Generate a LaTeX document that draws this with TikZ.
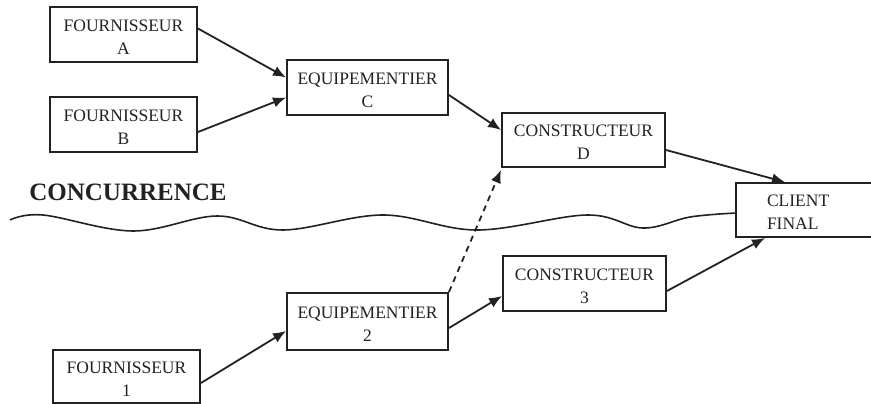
\documentclass[tikz,border=0pt]{standalone}
\usepackage{fontspec}
\setmainfont{Liberation Serif}
\usetikzlibrary{arrows.meta}
\definecolor{ink}{HTML}{222222}
% two-line label, set a little below the middle of its box
\newcommand{\twolines}[3][c]{\raisebox{-3.5pt}[\height][\depth]{\begin{tabular}{@{}#1@{}}#2\\#3\end{tabular}}}
\tikzset{
  box/.style={draw=ink, line width=1.9pt, fill=white, inner sep=0pt,
    font=\fontsize{17.5}{23}\selectfont, text=ink},
  flow/.style={draw=ink, line width=1.8pt, -{Latex[length=13pt,width=10.5pt]}},
  rival/.style={flow, dashed, dash pattern=on 6pt off 5pt}
}
\begin{document}
\begin{tikzpicture}[x=1pt,y=-1pt]
\useasboundingbox (0,0) rectangle (871,404);
\fill[white] (0,0) rectangle (871,404);

% supply chain boxes
\node[box, minimum width=147pt, minimum height=55pt] (fa) at (123.5,34.5) {\twolines{FOURNISSEUR}{A}};
\node[box, minimum width=147pt, minimum height=55pt] (fb) at (123.5,124.5) {\twolines{FOURNISSEUR}{B}};
\node[box, minimum width=161pt, minimum height=55pt] (ec) at (367.5,87.5) {\twolines{EQUIPEMENTIER}{C}};
\node[box, minimum width=163pt, minimum height=54pt] (cd) at (583.5,140) {\twolines{CONSTRUCTEUR}{D}};
\node[box, minimum width=144pt, minimum height=54pt, text width=82pt, inner xsep=31pt]
  (cf) at (808,210) {\twolines[l]{CLIENT}{FINAL}};
\node[box, minimum width=161pt, minimum height=57pt] (e2) at (367.5,321.5) {\twolines{EQUIPEMENTIER}{2}};
\node[box, minimum width=147pt, minimum height=53pt] (f1) at (126.5,376.5) {\twolines{FOURNISSEUR}{1}};
\node[box, minimum width=163pt, minimum height=55pt] (c3) at (584.5,283.5) {\twolines{CONSTRUCTEUR}{3}};

% competition boundary
\node[font=\fontsize{25}{30}\selectfont\bfseries, text=ink, inner sep=0pt] (conc) at (128,192) {CONCURRENCE};
\draw[ink, line width=1.6pt] plot[smooth, tension=0.6] coordinates {
  (10,220) (43,215) (133,231) (217,216) (283,230) (383,215) (477,230) (587,215) (643,228) (690,217) (736,213)};

% flows
\draw[flow] ([yshift=6pt]fa.east) -- ([yshift=10pt]ec.west);
\draw[flow] ([yshift=-7.5pt]fb.east) -- ([yshift=-10pt]ec.west);
\draw[flow] ([yshift=-7.5pt]ec.east) -- ([yshift=10pt]cd.west);
\draw[flow] ([yshift=-10pt]cd.east) -- ([xshift=-23pt]cf.north);
\draw[flow] ([yshift=-6.5pt]f1.east) -- ([yshift=-9.5pt]e2.west);
\draw[flow] ([yshift=-6.5pt]e2.east) -- ([yshift=-12.5pt]c3.west);
\draw[flow] ([yshift=-7.5pt]c3.east) -- ([xshift=-43pt]cf.south);
\draw[rival] (e2.north east) -- ([yshift=-2pt]cd.south west);
\end{tikzpicture}
\end{document}
